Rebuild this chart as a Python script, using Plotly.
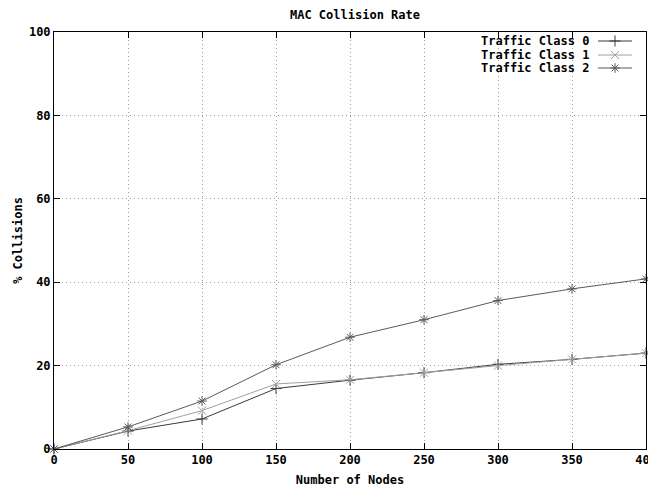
import plotly.graph_objects as go

nodes = [0, 50, 100, 150, 200, 250, 300, 350, 400]
class0 = [0, 4.3, 7.2, 14.5, 16.5, 18.3, 20.3, 21.5, 23.0]
class1 = [0, 4.4, 9.2, 15.6, 16.6, 18.3, 20.0, 21.5, 23.0]
class2 = [0, 5.3, 11.5, 20.2, 26.8, 31.0, 35.6, 38.4, 40.8]
names = ["Traffic Class 0", "Traffic Class 1", "Traffic Class 2"]
colors = ["#3a3a3a", "#a0a0a0", "#5a5a5a"]
symbols = ["cross-thin-open", "x-thin-open", "asterisk-open"]
xticks = [0, 50, 100, 150, 200, 250, 300, 350, 400]
yticks = [0, 20, 40, 60, 80, 100]

FONT = "DejaVu Sans Mono"
fig = go.Figure()
for ys, n, c, s in zip([class0, class1, class2], names, colors, symbols):
    fig.add_trace(go.Scatter(x=nodes, y=ys, mode="lines+markers", name=n,
                             line=dict(color=c, width=1),
                             marker=dict(symbol=s, size=8, color=c,
                                         line=dict(color=c, width=1)),
                             showlegend=False, cliponaxis=False))

# page body has an 8px margin: figure spans (8,8)-(656,491)
OFF = 8
W, H = 656 - OFF, 491 - OFF
L, R, T, B = 54 - OFF, 10, 32 - OFF, 42
pw, ph = W - L - R, H - T - B
def px2paper_x(px):
    return (px - OFF - L) / pw
def px2paper_y(py):
    return (H - B - (py - OFF)) / ph

# key background hides grid behind the key
fig.add_shape(type="rect", xref="paper", yref="paper", layer="between",
              x0=px2paper_x(478), x1=px2paper_x(640),
              y0=px2paper_y(75), y1=px2paper_y(34),
              fillcolor="white", line=dict(width=0))
key_y = [41, 55, 68]
for n, c, s, yy in zip(names, colors, symbols, key_y):
    fig.add_annotation(xref="paper", yref="paper", x=px2paper_x(591), y=px2paper_y(yy),
                       text=n, showarrow=False, xanchor="right", yanchor="middle",
                       font=dict(family=FONT, size=12, color="black", weight="bold"))
    fig.add_shape(type="line", xref="paper", yref="paper",
                  x0=px2paper_x(598), x1=px2paper_x(632),
                  y0=px2paper_y(yy), y1=px2paper_y(yy),
                  line=dict(color=c, width=1))
fig.add_trace(go.Scatter(x=[px2paper_x(615)] * 3, y=[px2paper_y(v) for v in key_y],
                         xaxis="x2", yaxis="y2", mode="markers",
                         marker=dict(symbol=symbols, size=8, color=colors,
                                     line=dict(color=colors, width=1)),
                         showlegend=False, hoverinfo="skip", cliponaxis=False))

axis_common = dict(showline=True, linecolor="black", linewidth=1, mirror="ticks",
                   ticks="inside", ticklen=6, tickcolor="black", automargin=False,
                   ticklabeloverflow="allow",
                   showgrid=True, gridcolor="#a0a0a0", griddash="1px,3px", gridwidth=1,
                   zeroline=False,
                   tickfont=dict(family=FONT, size=12, color="black", weight="bold"))
tfont = dict(family=FONT, size=12, color="black", weight="bold")
fig.update_layout(
    width=W, height=H,
    margin=dict(l=L, r=R, t=T, b=B),
    paper_bgcolor="white", plot_bgcolor="white",
    title=dict(text="MAC Collision Rate", x=(355 - OFF) / W, xanchor="center",
               y=1 - (15 - OFF) / H, yanchor="middle", font=tfont),
    xaxis=dict(range=[0, 400], tickvals=xticks, **axis_common,
               title=dict(text="Number of Nodes", standoff=9, font=tfont)),
    yaxis=dict(range=[0, 100], tickvals=yticks, **axis_common,
               title=dict(text="% Collisions", standoff=3, font=tfont)),
    xaxis2=dict(overlaying="x", range=[0, 1], visible=False),
    yaxis2=dict(overlaying="y", range=[0, 1], visible=False),
    showlegend=False,
)
fig.write_html("out.html")
